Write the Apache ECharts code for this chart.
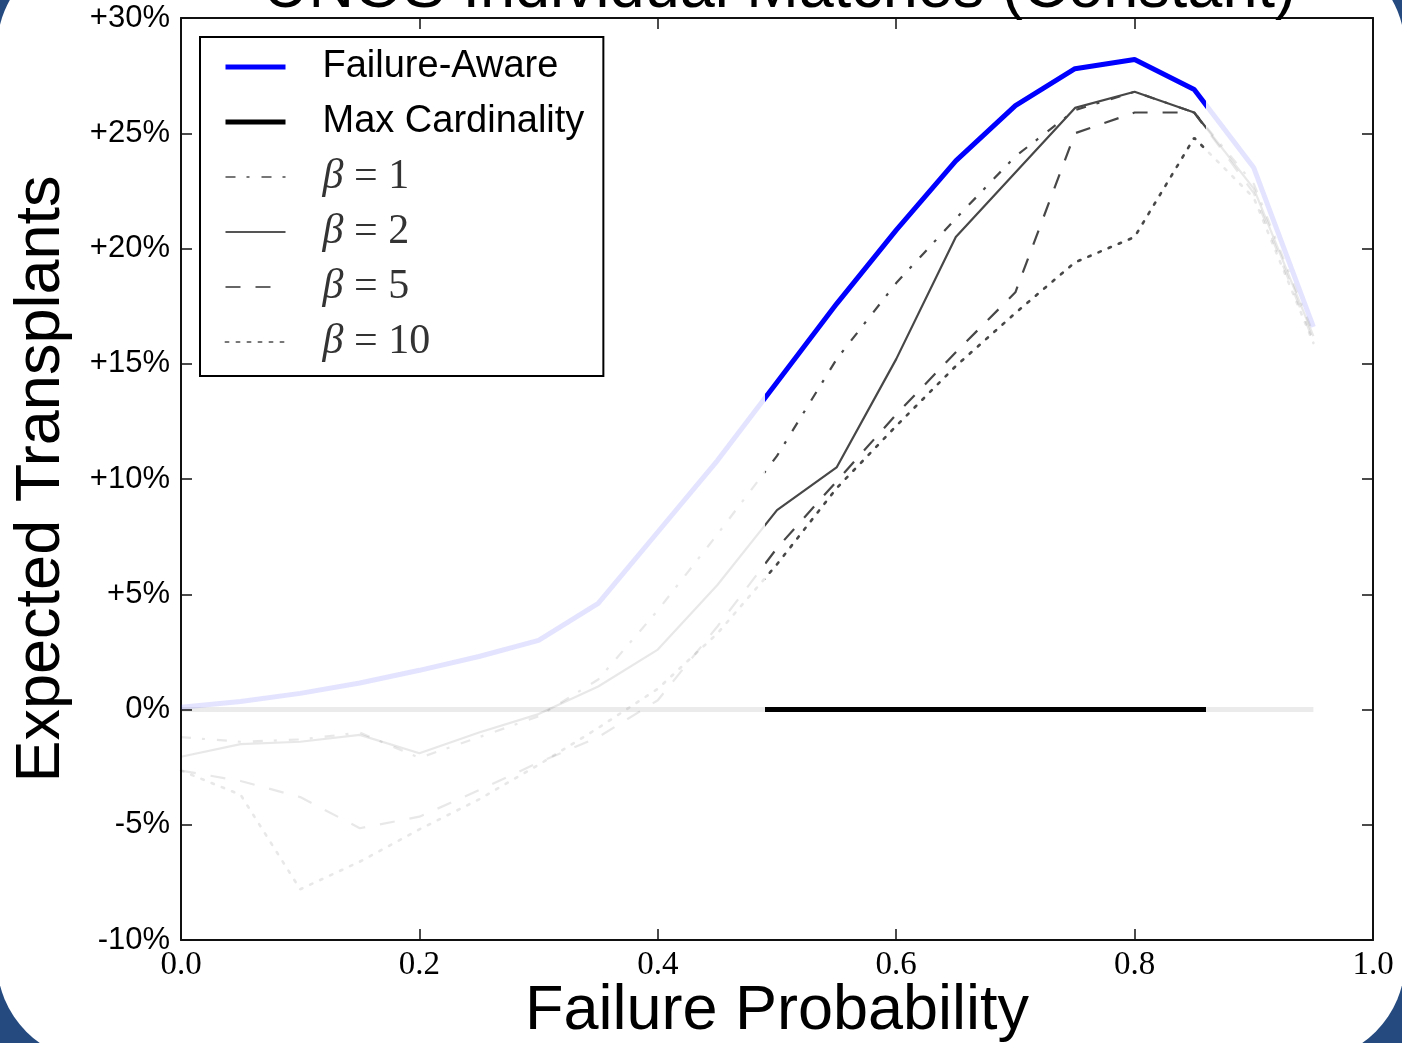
<!DOCTYPE html>
<html>
<head>
    <meta charset="utf-8">
    <title>UNOS Individual Matches (Constant)</title>
    <script src="https://cdn.jsdelivr.net/npm/echarts@6/dist/echarts.min.js"></script>
    <style>
        html, body { margin: 0; padding: 0; }
        body {
            width: 1402px;
            height: 1043px;
            overflow: hidden;
            position: relative;
            background-color: #244a7f;
        }
        .card {
            position: absolute;
            left: -3px;
            top: -51px;
            width: 1408px;
            height: 1112px;
            border-radius: 100px;
            background-color: #fff;
        }
        #mychart {
            position: absolute;
            left: 0;
            top: 0;
            width: 1402px;
            height: 1043px;
        }
    </style>
</head>
<body>
<div class="card"></div>
<div id="mychart"></div>

<script>
    // failure probability (x) and expected transplant change in % (y)
    const failureProb    = [0, 0.05, 0.1, 0.15, 0.2, 0.25, 0.3, 0.35, 0.4, 0.45, 0.5, 0.55, 0.6, 0.65, 0.7, 0.75, 0.8, 0.85, 0.9, 0.95];
    const failureAware   = [0.1, 0.35, 0.7, 1.15, 1.7, 2.3, 3.0, 4.6, 7.7, 10.8, 14.2, 17.6, 20.8, 23.8, 26.2, 27.8, 28.2, 26.9, 23.5, 16.6];
    const maxCardinality = [0, 0, 0, 0, 0, 0, 0, 0, 0, 0, 0, 0, 0, 0, 0, 0, 0, 0, 0, 0];
    const beta1  = [-1.2, -1.4, -1.3, -1.0, -2.1, -1.2, -0.3, 1.3, 4.3, 7.6, 11.0, 15.2, 18.5, 21.3, 24.0, 26.0, 26.8, 25.9, 22.8, 16.3];
    const beta2  = [-2.05, -1.5, -1.4, -1.1, -1.9, -1.0, -0.2, 1.0, 2.6, 5.4, 8.65, 10.5, 15.2, 20.5, 23.3, 26.1, 26.8, 25.9, 22.6, 16.2];
    const beta5  = [-2.65, -3.1, -3.8, -5.15, -4.65, -3.5, -2.3, -1.2, 0.4, 3.6, 7.0, 9.9, 12.8, 15.5, 18.1, 25.0, 25.9, 25.9, 22.4, 16.0];
    const beta10 = [-2.65, -3.7, -7.8, -6.6, -5.2, -3.9, -2.4, -0.8, 0.9, 3.3, 6.3, 9.6, 12.3, 14.9, 17.2, 19.4, 20.5, 24.8, 22.2, 15.9];

    // highlighted window on the x axis, the rest is drawn faded
    const winFrom = 0.49;
    const winTo = 0.86;

    function pairs(ys) {
        let out = [];
        for (let i = 0; i < failureProb.length; i++) {
            out.push([failureProb[i], ys[i]]);
        }
        return out;
    }

    var myChart = echarts.init(document.getElementById('mychart'));

    let serif = "'Liberation Serif', 'DejaVu Serif', serif";
    let sans = "'Liberation Sans', Arial, sans-serif";

    let tickStyle = {show: true, inside: true, length: 11, lineStyle: {color: '#111', width: 1.5}};
    let frameLine = {show: true, onZero: false, lineStyle: {color: '#111', width: 2}};
    let noMark = {opacity: 0};

    let option = {
        backgroundColor: 'transparent',
        animation: false,
        title: {
            text: 'UNOS Individual Matches (Constant)',
            left: 258,
            top: -47,
            textStyle: {fontFamily: sans, fontSize: 63, fontWeight: 'normal', color: '#000'}
        },
        grid: {left: 181, right: 29, top: 18, bottom: 103, outerBoundsMode: 'none'},
        legend: {
            orient: 'vertical',
            left: 200,
            top: 37,
            padding: [9, 19, 13, 23],
            borderColor: '#000',
            borderWidth: 2,
            backgroundColor: '#fff',
            itemWidth: 60,
            itemHeight: 20,
            itemGap: 13,
            textStyle: {
                fontFamily: sans,
                fontSize: 38,
                lineHeight: 42,
                color: '#000',
                padding: [0, 0, 0, 32],
                rich: {
                    b: {fontFamily: serif, fontStyle: 'italic', fontSize: 42, lineHeight: 42, color: '#333'},
                    m: {fontFamily: serif, fontSize: 42, lineHeight: 42, color: '#333'}
                }
            },
            formatter: function (name) {
                if (name.indexOf('β') === 0) {
                    return '{b|β} {m|' + name.slice(1).trim() + '}';
                }
                return name;
            },
            data: [
                {name: 'Failure-Aware', itemStyle: noMark, lineStyle: {color: '#0000ff', width: 5, type: 'solid'}},
                {name: 'Max Cardinality', itemStyle: noMark, lineStyle: {color: '#000', width: 5, type: 'solid'}},
                {name: 'β = 1', itemStyle: noMark, lineStyle: {color: '#777', width: 2, type: [10, 11, 3, 12]}},
                {name: 'β = 2', itemStyle: noMark, lineStyle: {color: '#555', width: 2, type: 'solid'}},
                {name: 'β = 5', itemStyle: noMark, lineStyle: {color: '#666', width: 2, type: [15, 15]}},
                {name: 'β = 10', itemStyle: noMark, lineStyle: {color: '#777', width: 2, type: [3, 8]}}
            ]
        },
        visualMap: [
            {
                type: 'piecewise', show: false, dimension: 0, seriesIndex: 0,
                pieces: [{gte: winFrom, lte: winTo, color: '#0000ff'}],
                outOfRange: {color: 'rgba(60,60,255,0.14)'}
            },
            {
                type: 'piecewise', show: false, dimension: 0, seriesIndex: 1,
                pieces: [{gte: winFrom, lte: winTo, color: '#000'}],
                outOfRange: {color: 'rgba(0,0,0,0.08)'}
            },
            {
                type: 'piecewise', show: false, dimension: 0, seriesIndex: [2, 3, 4, 5],
                pieces: [{gte: winFrom, lte: winTo, color: '#474747'}],
                outOfRange: {color: 'rgba(0,0,0,0.09)'}
            }
        ],
        xAxis: [
            {
                type: 'value',
                min: 0,
                max: 1,
                interval: 0.2,
                name: 'Failure Probability',
                nameLocation: 'middle',
                nameGap: 40,
                nameMoveOverlap: false,
                nameTextStyle: {fontFamily: sans, fontSize: 63, color: '#000'},
                axisLine: frameLine,
                axisTick: tickStyle,
                splitLine: {show: false},
                axisLabel: {
                    fontFamily: serif,
                    fontSize: 33,
                    color: '#000',
                    margin: 9,
                    formatter: v => v.toFixed(1)
                }
            },
            {
                type: 'value', position: 'top', min: 0, max: 1, interval: 0.2,
                axisLine: frameLine, axisTick: tickStyle,
                axisLabel: {show: false}, splitLine: {show: false}
            }
        ],
        yAxis: [
            {
                type: 'value',
                min: -10,
                max: 30,
                interval: 5,
                name: 'Expected Transplants',
                nameLocation: 'middle',
                nameGap: 108,
                nameMoveOverlap: false,
                nameTextStyle: {fontFamily: sans, fontSize: 63, color: '#000'},
                axisLine: frameLine,
                axisTick: tickStyle,
                splitLine: {show: false},
                axisLabel: {
                    fontFamily: sans,
                    fontSize: 31,
                    color: '#000',
                    margin: 11,
                    formatter: v => (v > 0 ? '+' + v : '' + v) + '%'
                }
            },
            {
                type: 'value', position: 'right', min: -10, max: 30, interval: 5,
                axisLine: frameLine, axisTick: tickStyle,
                axisLabel: {show: false}, splitLine: {show: false}
            }
        ],
        series: [
            {
                name: 'Failure-Aware', type: 'line', symbol: 'none', z: 6,
                lineStyle: {width: 5, type: 'solid'},
                data: pairs(failureAware)
            },
            {
                name: 'Max Cardinality', type: 'line', symbol: 'none', z: 5,
                lineStyle: {width: 5, type: 'solid'},
                data: pairs(maxCardinality)
            },
            {
                name: 'β = 1', type: 'line', symbol: 'none', z: 4,
                lineStyle: {width: 2.2, type: [10, 11, 3, 12]},
                data: pairs(beta1)
            },
            {
                name: 'β = 2', type: 'line', symbol: 'none', z: 4,
                lineStyle: {width: 2.2, type: 'solid'},
                data: pairs(beta2)
            },
            {
                name: 'β = 5', type: 'line', symbol: 'none', z: 4,
                lineStyle: {width: 2.2, type: [15, 15]},
                data: pairs(beta5)
            },
            {
                name: 'β = 10', type: 'line', symbol: 'none', z: 4,
                lineStyle: {width: 2.6, type: [2.5, 8.5], cap: 'round'},
                data: pairs(beta10)
            }
        ]
    };

    myChart.setOption(option);
</script>
</body>
</html>
